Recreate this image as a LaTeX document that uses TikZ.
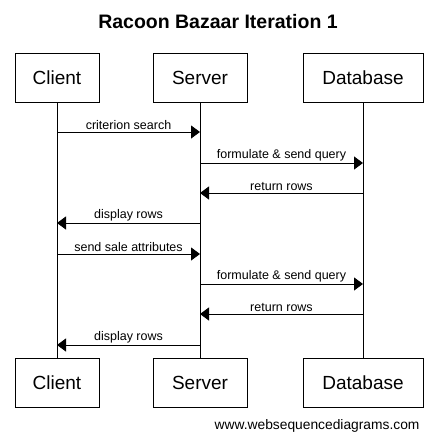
\documentclass[tikz,border=0pt]{standalone}
\usepackage{fontspec}
\setmainfont{Liberation Sans}
\usetikzlibrary{arrows.meta}

\tikzset{
    actor/.style={draw, line width=1pt, minimum height=49pt, inner sep=0pt,
        font=\fontsize{19}{22}\selectfont},
    msg/.style={line width=1pt, -{Triangle[length=9pt, width=13pt]}},
    msglabel/.style={font=\fontsize{12.5}{14}\selectfont, inner sep=1.5pt, above}
}

\begin{document}
\begin{tikzpicture}[x=1pt, y=-1pt]
    \useasboundingbox (0,0) rectangle (437,442);

    % Title
    \node[font=\bfseries\fontsize{19.5}{22}\selectfont] (title) at (218,22) {Racoon Bazaar Iteration 1};

    % Actor boxes at the top
    \node[actor, minimum width=84pt] (clientT) at (57,77.5) {Client};
    \node[actor, minimum width=94pt] (serverT) at (200,77.5) {Server};
    \node[actor, minimum width=120pt] (dbT) at (363,77.5) {Database};

    % Actor boxes at the bottom
    \node[actor, minimum width=84pt] (clientB) at (57,382.5) {Client};
    \node[actor, minimum width=94pt] (serverB) at (200,382.5) {Server};
    \node[actor, minimum width=120pt] (dbB) at (363,382.5) {Database};

    % Lifelines
    \draw[line width=1pt] (clientT.south) -- (clientB.north);
    \draw[line width=1pt] (serverT.south) -- (serverB.north);
    \draw[line width=1pt] (dbT.south) -- (dbB.north);

    % Message rows
    \coordinate (row1) at (0,132);
    \coordinate (row2) at (0,163);
    \coordinate (row3) at (0,193);
    \coordinate (row4) at (0,223);
    \coordinate (row5) at (0,254);
    \coordinate (row6) at (0,284);
    \coordinate (row7) at (0,314);
    \coordinate (row8) at (0,345);

    % First request
    \draw[msg] (clientT.south |- row1) -- (serverT.south |- row1) node[msglabel, midway] {criterion search};
    \draw[msg] (serverT.south |- row2) -- (dbT.south |- row2) node[msglabel, midway] {formulate \& send query};
    \draw[msg] (dbT.south |- row3) -- (serverT.south |- row3) node[msglabel, midway] {return rows};
    \draw[msg] (serverT.south |- row4) -- (clientT.south |- row4) node[msglabel, midway] {display rows};

    % Second request
    \draw[msg] (clientT.south |- row5) -- (serverT.south |- row5) node[msglabel, midway] {send sale attributes};
    \draw[msg] (serverT.south |- row6) -- (dbT.south |- row6) node[msglabel, midway] {formulate \& send query};
    \draw[msg] (dbT.south |- row7) -- (serverT.south |- row7) node[msglabel, midway] {return rows};
    \draw[msg] (serverT.south |- row8) -- (clientT.south |- row8) node[msglabel, midway] {display rows};

    % Footer
    \node[anchor=east, font=\fontsize{13.8}{16}\selectfont] (footer) at (423,426) {www.websequencediagrams.com};
\end{tikzpicture}
\end{document}
